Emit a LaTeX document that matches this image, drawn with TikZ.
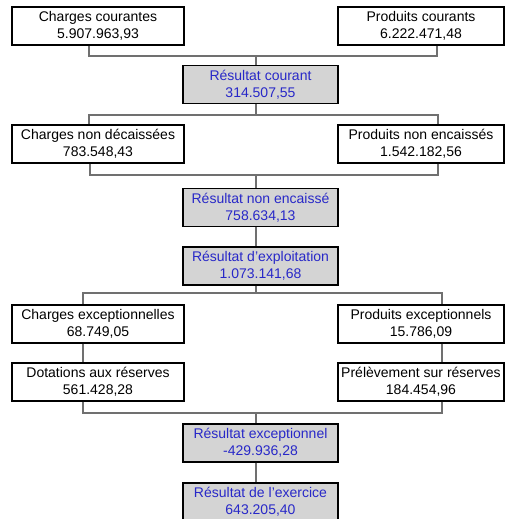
\documentclass[tikz,border=0pt]{standalone}
\usepackage{fontspec}
\setmainfont{Liberation Sans}
\definecolor{resblue}{RGB}{40,40,200}
\definecolor{resgray}{RGB}{212,212,212}
\definecolor{linkgray}{RGB}{112,112,112}
\begin{document}
\begin{tikzpicture}[x=0.75pt, y=-0.75pt,
   box/.style={draw=black, line width=0.9pt, fill=white, inner sep=0pt, align=center,
               font=\fontsize{10.5}{12.75}\selectfont, minimum height=28.5pt},
   lbox/.style={box, minimum width=129pt},
   rbox/.style={box, minimum width=124.5pt},
   res/.style={box, fill=resgray, text=resblue, minimum width=116.25pt},
   link/.style={draw=linkgray, line width=1.5pt}]
   \useasboundingbox (0,0) rectangle (507,519);
   % courant
   \node[lbox] (cc)  at ( 98.0,  26.0) {Charges courantes\\5.907.963,93};
   \node[rbox] (pc)  at (421.0,  26.0) {Produits courants\\6.222.471,48};
   \node[res]  (rc)  at (260.5,  84.5) {Résultat courant\\314.507,55};
   % non encaissé
   \node[lbox] (cnd) at ( 98.0, 144.0) {Charges non décaissées\\783.548,43};
   \node[rbox] (pne) at (421.0, 144.0) {Produits non encaissés\\1.542.182,56};
   \node[res]  (rne) at (260.5, 207.5) {Résultat non encaissé\\758.634,13};
   \node[res]  (rex) at (260.5, 266.0) {Résultat d'exploitation\\1.073.141,68};
   % exceptionnel
   \node[lbox] (cex) at ( 98.0, 324.0) {Charges exceptionnelles\\68.749,05};
   \node[rbox] (pex) at (421.0, 324.0) {Produits exceptionnels\\15.786,09};
   \node[lbox] (dot) at ( 98.0, 382.0) {Dotations aux réserves\\561.428,28};
   \node[rbox] (pre) at (421.0, 382.0) {Prélèvement sur réserves\\184.454,96};
   \node[res]  (rxc) at (260.5, 443.0) {Résultat exceptionnel\\-429.936,28};
   \node[res]  (rxe) at (260.5, 502.0) {Résultat de l'exercice\\643.205,40};
   % junctions
   \coordinate (j1) at (256,  56);
   \coordinate (j2) at (256, 115);
   \coordinate (j3) at (256, 175);
   \coordinate (j4) at (256, 293);
   \coordinate (j5) at (256, 413);
   \draw[link] ([xshift=-7pt]cc.south) |- (j1); \draw[link] ([xshift=12pt]pc.south) |- (j1);
   \draw[link] (j1) -- (j1 |- rc.north);
   \draw[link] (j2 |- rc.south) -- (j2);
   \draw[link] (j2) -| ([xshift=-7pt]cnd.north); \draw[link] (j2) -| ([xshift=12.5pt]pne.north);
   \draw[link] ([xshift=-6pt]cnd.south) |- (j3); \draw[link] ([xshift=12.5pt]pne.south) |- (j3);
   \draw[link] (j3) -- (j3 |- rne.north);
   \draw[link] (j3 |- rne.south) -- (j3 |- rex.north);
   \draw[link] (j4 |- rex.south) -- (j4);
   \draw[link] (j4) -| ([xshift=-11pt]cex.north); \draw[link] (j4) -| ([xshift=15.5pt]pex.north);
   \draw[link] ([xshift=-11pt]cex.south) -- ([xshift=-11pt]dot.north);
   \draw[link] ([xshift=15.5pt]pex.south) -- ([xshift=15.5pt]pre.north);
   \draw[link] ([xshift=-11pt]dot.south) |- (j5); \draw[link] ([xshift=15.5pt]pre.south) |- (j5);
   \draw[link] (j5) -- (j5 |- rxc.north);
   \draw[link] (j5 |- rxc.south) -- (j5 |- rxe.north);
\end{tikzpicture}
\end{document}
